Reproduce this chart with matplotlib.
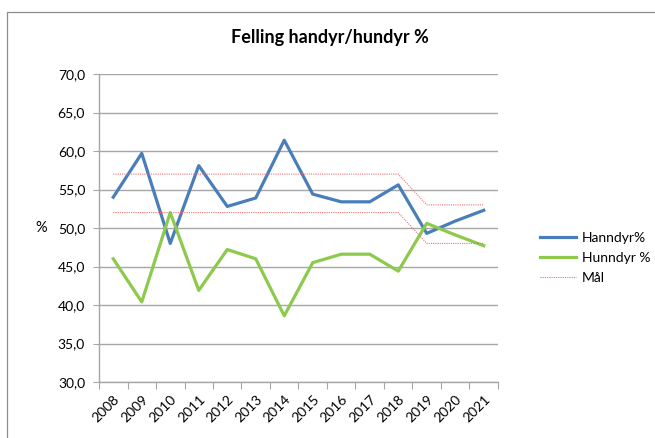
import matplotlib.pyplot as plt
import numpy as np
from matplotlib.patches import Rectangle
from matplotlib.ticker import FuncFormatter, FixedLocator

plt.rcParams['font.family'] = ['Lato', 'DejaVu Sans']

years = ['2008', '2009', '2010', '2011', '2012', '2013', '2014',
         '2015', '2016', '2017', '2018', '2019', '2020', '2021']
hanndyr = [54.0, 59.7, 48.0, 58.1, 52.8, 53.9, 61.4, 54.4, 53.4, 53.4, 55.6, 49.3, 50.9, 52.3]
hunndyr = [46.0, 40.4, 52.0, 41.9, 47.2, 46.0, 38.6, 45.5, 46.6, 46.6, 44.4, 50.6, 49.1, 47.7]
maal_high = [57, 57, 57, 57, 57, 57, 57, 57, 57, 57, 57, 53, 53, 53]
maal_low = [52, 52, 52, 52, 52, 52, 52, 52, 52, 52, 52, 48, 48, 48]

fig = plt.figure(figsize=(6.55, 4.38), dpi=100)
fig.patches.append(Rectangle((7 / 655, -0.01), 1.0, 1 - 12 / 438 + 0.01,
                             transform=fig.transFigure, fill=False,
                             edgecolor='#8c8c8c', linewidth=0.9))

ax = fig.add_axes([99 / 655, 1 - 382 / 438, 399 / 655, 308 / 438])
x = np.arange(len(years))

ax.plot(x, hanndyr, color='#4a7ebb', linewidth=2.3, label='Hanndyr%')
ax.plot(x, hunndyr, color='#8cc94c', linewidth=2.3, label='Hunndyr %')
ax.plot(x, maal_high, color='#f07070', linewidth=0.8, linestyle=(0, (1, 1)), label='Mål')
ax.plot(x, maal_low, color='#f07070', linewidth=0.8, linestyle=(0, (1, 1)))

ax.set_xlim(-0.5, len(years) - 0.5)
ax.set_ylim(30, 70)
ax.set_yticks(np.arange(30, 71, 5))
ax.yaxis.set_major_formatter(FuncFormatter(lambda v, p: f'{v:.1f}'.replace('.', ',')))
ax.grid(axis='y', color='#a6a6a6', linewidth=1.0)
ax.set_axisbelow(True)

ax.xaxis.set_major_locator(FixedLocator(np.arange(-0.5, len(years), 1.0)))
ax.xaxis.set_major_formatter(FuncFormatter(lambda v, p: ''))
ax.xaxis.set_minor_locator(FixedLocator(x))
ax.set_xticklabels(years, minor=True, rotation=45, ha='right', va='top',
                   rotation_mode='anchor', fontsize=10)
ax.tick_params(axis='x', which='major', length=5, color='#a6a6a6', direction='out')
ax.tick_params(axis='x', which='minor', length=0, pad=8)
ax.tick_params(axis='y', length=4, color='#a6a6a6', labelsize=10, pad=6)

for s in ['top', 'right']:
    ax.spines[s].set_visible(False)
for s in ['left', 'bottom']:
    ax.spines[s].set_color('#a6a6a6')
    ax.spines[s].set_linewidth(1.0)

ax.set_ylabel('%', rotation=0, fontsize=10.5, labelpad=12, va='center')

fig.text(330 / 655, 1 - 38 / 438, 'Felling handyr/hundyr %', ha='center',
         va='center', fontsize=13, fontweight='bold')

ax.legend(loc='center left', bbox_to_anchor=(540 / 655, 1 - 258 / 438),
          bbox_transform=fig.transFigure, frameon=False, fontsize=10,
          handlelength=2.6, handletextpad=0.4, labelspacing=0.55,
          borderaxespad=0, borderpad=0)

fig.savefig('out.png', dpi=100)
